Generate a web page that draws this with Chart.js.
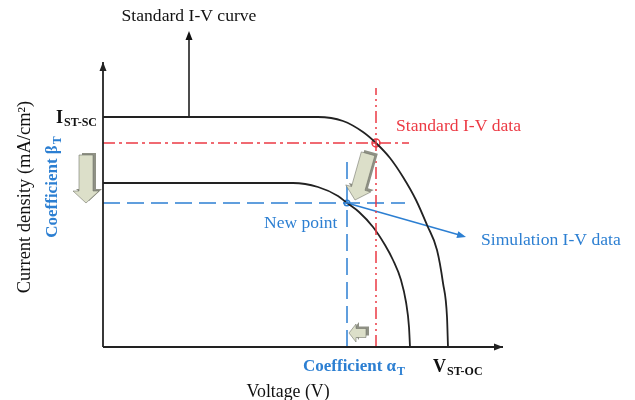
<!DOCTYPE html>
<html>
<head>
<meta charset="utf-8">
<script src="https://cdn.jsdelivr.net/npm/chart.js@4"></script>
<style>
  html, body { margin: 0; padding: 0; background: #fff; }
  #myChart { display: block; }
</style>
</head>
<body>
<canvas id="myChart" width="635" height="400"></canvas>
<script>
// axis units: voltage and current density in arbitrary (schematic) units
const stdVoltage = [0, 185, 215, 240, 260, 273, 287, 300, 313, 324, 334, 340, 344, 345];
const stdCurrent = [230, 230, 230, 226, 215, 204, 189, 170, 147, 122, 97, 64, 30, 0];

const simVoltage = [0, 160, 190, 215, 235, 244, 256, 270, 282, 290, 298, 303, 306, 307];
const simCurrent = [164, 164, 164, 160, 151, 144, 135, 120, 102, 87, 67, 45, 20, 0];

const stdPoint = [273, 204];
const newPoint = [244, 144];
const xMax = 400;
const yMax = 285;

const RED = '#ec3a44';
const BLUE = '#2c7fd2';
const SERIF = '"Liberation Serif", "Times New Roman", serif';

function pts(xs, ys) {
  return xs.map((x, i) => ({x: x, y: ys[i]}));
}

const data = {
  datasets: [
    // axes
    {data: pts([0, 0], [0, yMax]), borderColor: '#222', borderWidth: 1.8},
    {data: pts([0, xMax], [0, 0]), borderColor: '#222', borderWidth: 1.8},
    // red guide lines through the standard point
    {data: pts([0, 306], [stdPoint[1], stdPoint[1]]), borderColor: RED, borderWidth: 1.5, borderDash: [12, 4, 3, 4]},
    {data: pts([stdPoint[0], stdPoint[0]], [0, 259]), borderColor: RED, borderWidth: 1.5, borderDash: [12, 4, 2, 4, 2, 4]},
    // blue guide lines through the new point
    {data: pts([0, 302], [newPoint[1], newPoint[1]]), borderColor: BLUE, borderWidth: 1.5, borderDash: [17, 7]},
    {data: pts([newPoint[0], newPoint[0]], [0, 187]), borderColor: BLUE, borderWidth: 1.5, borderDash: [17, 7]},
    // curves
    {data: pts(stdVoltage, stdCurrent), borderColor: '#222', borderWidth: 1.8, cubicInterpolationMode: 'monotone'},
    {data: pts(simVoltage, simCurrent), borderColor: '#222', borderWidth: 1.8, cubicInterpolationMode: 'monotone'},
    // pointer lines
    {data: pts([86, 86], [230, 312]), borderColor: '#111', borderWidth: 1.5},
    {data: pts([newPoint[0], 360], [newPoint[1], 111]), borderColor: BLUE, borderWidth: 1.5},
    // marked points
    {data: [{x: stdPoint[0], y: stdPoint[1]}], showLine: false, pointRadius: 4, borderColor: RED, borderWidth: 1.5, backgroundColor: 'rgba(255,255,255,0.6)'},
    {data: [{x: newPoint[0], y: newPoint[1]}], showLine: false, pointRadius: 2.8, borderColor: BLUE, borderWidth: 1.5, backgroundColor: 'rgba(255,255,255,0.6)'}
  ]
};

// arrow heads: [tipX, tipY, fromX, fromY, color]
const arrowHeads = [
  [0, yMax, 0, 0, '#222'],
  [xMax, 0, 0, 0, '#222'],
  [86, 316, 86, 230, '#111'],
  [363, 110, newPoint[0], newPoint[1], BLUE]
];

// 3D block arrows: [tipX, tipY, dirX, dirY (pixels), length, shaft, head, headLen]
const blockArrows = [
  [-17, 144, 0, 1, 48, 14, 26, 12],
  [252, 147, -13, 46, 48, 14, 26, 12],
  [246, 14, -1, 0, 17, 9, 18, 7]
];

// text: [text, sub, x, y, size, bold, color, align, rotate]
const labels = [
  ['Standard I-V curve', '', 86, 331, 17.6, false, '#111', 'center', false],
  ['Standard I-V data', '', 293, 221, 17.6, false, RED, 'left', false],
  ['New point', '', 161, 124, 17.5, false, BLUE, 'left', false],
  ['Simulation I-V data', '', 378, 107, 17.6, false, BLUE, 'left', false],
  ['Voltage (V)', '', 185, -45, 17.8, false, '#111', 'center', false],
  ['Coefficient \u03B1', 'T', 200, -20, 17, true, BLUE, 'left', false],
  ['V', 'ST-OC', 330, -20, 18, true, '#111', 'left', false],
  ['I', 'ST-SC', -6, 229, 18, true, '#111', 'right', false],
  ['Current density (mA/cm\u00B2)', '', -78, 150, 18.5, false, '#111', 'center', true],
  ['Coefficient \u03B2', 'T', -50, 160, 17, true, BLUE, 'center', true]
];

function drawText(ctx, item, px, py) {
  const [text, sub, , , size, bold, color, align] = item;
  const w = bold ? 'bold ' : '';
  const subSize = Math.round(size * 0.68);
  ctx.font = w + size + 'px ' + SERIF;
  const mainW = ctx.measureText(text).width;
  ctx.font = w + subSize + 'px ' + SERIF;
  const subW = sub ? ctx.measureText(sub).width + 1 : 0;
  const total = mainW + subW;
  let left = px;
  if (align === 'center') left = px - total / 2;
  if (align === 'right') left = px - total;
  ctx.fillStyle = color;
  ctx.textAlign = 'left';
  ctx.textBaseline = 'middle';
  ctx.font = w + size + 'px ' + SERIF;
  ctx.fillText(text, left, py);
  if (sub) {
    ctx.font = w + subSize + 'px ' + SERIF;
    ctx.fillText(sub, left + mainW + 1, py + size * 0.28);
  }
}

const drawingPlugin = {
  id: 'schematicBits',
  afterDatasetsDraw(chart) {
    const ctx = chart.ctx;
    const xs = chart.scales.x, ys = chart.scales.y;
    ctx.save();

    arrowHeads.forEach(a => {
      const tx = xs.getPixelForValue(a[0]), ty = ys.getPixelForValue(a[1]);
      const fx = xs.getPixelForValue(a[2]), fy = ys.getPixelForValue(a[3]);
      const ang = Math.atan2(ty - fy, tx - fx);
      ctx.fillStyle = a[4];
      ctx.beginPath();
      ctx.moveTo(tx, ty);
      ctx.lineTo(tx - 9 * Math.cos(ang) + 3.5 * Math.sin(ang), ty - 9 * Math.sin(ang) - 3.5 * Math.cos(ang));
      ctx.lineTo(tx - 9 * Math.cos(ang) - 3.5 * Math.sin(ang), ty - 9 * Math.sin(ang) + 3.5 * Math.cos(ang));
      ctx.closePath();
      ctx.fill();
    });

    blockArrows.forEach(b => {
      const tx = xs.getPixelForValue(b[0]), ty = ys.getPixelForValue(b[1]);
      const n = Math.hypot(b[2], b[3]);
      const dx = b[2] / n, dy = b[3] / n;
      const nx = -dy, ny = dx;
      const [len, sw, hw, hl] = [b[4], b[5], b[6], b[7]];
      const shape = [
        [0, 0], [-hl, hw / 2], [-hl, sw / 2], [-len, sw / 2],
        [-len, -sw / 2], [-hl, -sw / 2], [-hl, -hw / 2]
      ].map(p => [tx + dx * p[0] + nx * p[1], ty + dy * p[0] + ny * p[1]]);
      const poly = (off, fill) => {
        ctx.beginPath();
        shape.forEach((p, i) => {
          if (i === 0) ctx.moveTo(p[0] + off[0], p[1] + off[1]);
          else ctx.lineTo(p[0] + off[0], p[1] + off[1]);
        });
        ctx.closePath();
        ctx.fillStyle = fill;
        ctx.fill();
      };
      poly([3, -2], '#8f9185');
      poly([0, 0], '#dcdfc9');
      ctx.strokeStyle = 'rgba(110,112,100,0.7)';
      ctx.lineWidth = 0.8;
      ctx.stroke();
    });

    labels.forEach(l => {
      const px = xs.getPixelForValue(l[2]), py = ys.getPixelForValue(l[3]);
      if (l[8]) {
        ctx.save();
        ctx.translate(px, py);
        ctx.rotate(-Math.PI / 2);
        drawText(ctx, l, 0, 0);
        ctx.restore();
      } else {
        drawText(ctx, l, px, py);
      }
    });
    ctx.restore();
  }
};

const config = {
  type: 'scatter',
  data: data,
  options: {
    responsive: false,
    animation: false,
    layout: {padding: {left: 103, right: 132, top: 62, bottom: 53}},
    datasets: {
      scatter: {showLine: true, pointRadius: 0, fill: false, clip: false, tension: 0}
    },
    scales: {
      x: {type: 'linear', min: 0, max: xMax, display: false},
      y: {type: 'linear', min: 0, max: yMax, display: false}
    },
    plugins: {legend: {display: false}, tooltip: {enabled: false}}
  },
  plugins: [drawingPlugin]
};

const myChart = new Chart(document.getElementById('myChart'), config);
</script>
</body>
</html>
